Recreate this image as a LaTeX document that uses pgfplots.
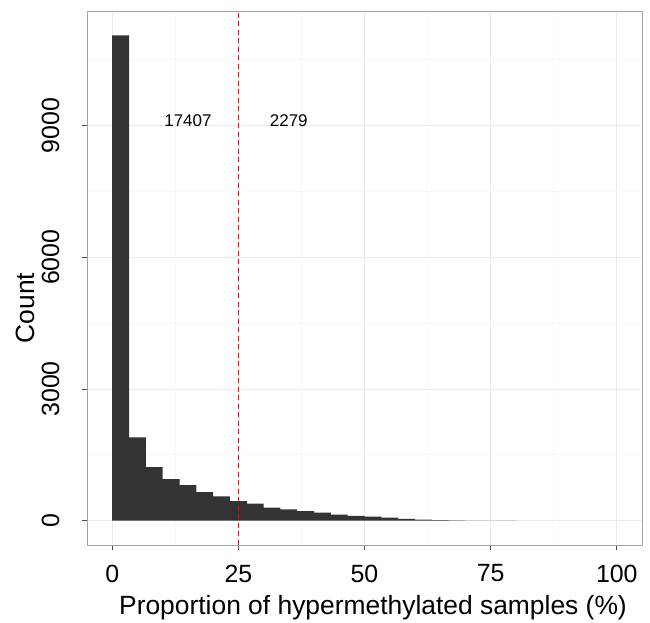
\documentclass[border=0pt]{standalone}
\usepackage{fontspec}
\setmainfont{Liberation Sans}
\usepackage{pgfplots}
\pgfplotsset{compat=1.18}
\definecolor{barfill}{HTML}{333333}
\definecolor{gridmaj}{HTML}{EBEBEB}
\definecolor{gridmin}{HTML}{F7F7F7}
\definecolor{border}{HTML}{A6A6A6}
\definecolor{tickc}{HTML}{4D4D4D}
\begin{document}
\begin{tikzpicture}
\path[use as bounding box] (-87bp,-78bp) rectangle (563bp,545bp);
\begin{axis}[
  at={(0,0)}, anchor=south west,
  scale only axis, width=555bp, height=534bp,
  xmin=-5, xmax=105, ymin=-552.75, ymax=11607.75,
  xtick={0,25,50,75,100}, ytick={0,3000,6000,9000},
  minor xtick={12.5,37.5,62.5,87.5}, minor ytick={1500,4500,7500,10500},
  grid=both,
  major grid style={gridmaj, line width=0.8bp},
  minor grid style={gridmin, line width=0.8bp},
  axis line style={border, line width=0.8bp},
  tick align=outside, tick pos=left,
  major tick length=5.5bp, minor tick length=0pt,
  every tick/.style={tickc, line width=0.8bp},
  /pgf/number format/assume math mode=true,
  /pgf/number format/1000 sep={},
  scaled ticks=false,
  xticklabel style={font=\fontsize{25}{30}\selectfont, inner sep=0pt, anchor=north, yshift=-14bp},
  yticklabel style={font=\fontsize{25}{30}\selectfont, inner sep=0pt, rotate=90, anchor=south, yshift=22bp},
]
\addplot[fill=barfill, draw=none, const plot] coordinates {
 (0,11055) (3.3333,1897) (6.6667,1223) (10,950) (13.3333,813) (16.6667,654)
 (20,554) (23.3333,449) (26.6667,387) (30,296) (33.3333,258) (36.6667,221)
 (40,182) (43.3333,137) (46.6667,110) (50,95) (53.3333,68) (56.6667,45)
 (60,23) (63.3333,15) (66.6667,8) (70,5) (73.3333,2) (76.6667,1) (80,0) } \closedcycle;
\addplot[red, line width=0.9bp, dash pattern=on 5bp off 3.5bp] coordinates {(25,-552.75) (25,11607.75)};
\node[font=\fontsize{17}{20}\selectfont] at (axis cs:15,9100) {17407};
\node[font=\fontsize{17}{20}\selectfont] at (axis cs:35,9100) {2279};
\end{axis}
\node[font=\fontsize{26.5}{30}\selectfont, anchor=base] at (286bp,-69bp) {Proportion of hypermethylated samples (\%)};
\node[font=\fontsize{26.5}{30}\selectfont, rotate=90] at (-62bp,237bp) {Count};
\end{tikzpicture}
\end{document}
